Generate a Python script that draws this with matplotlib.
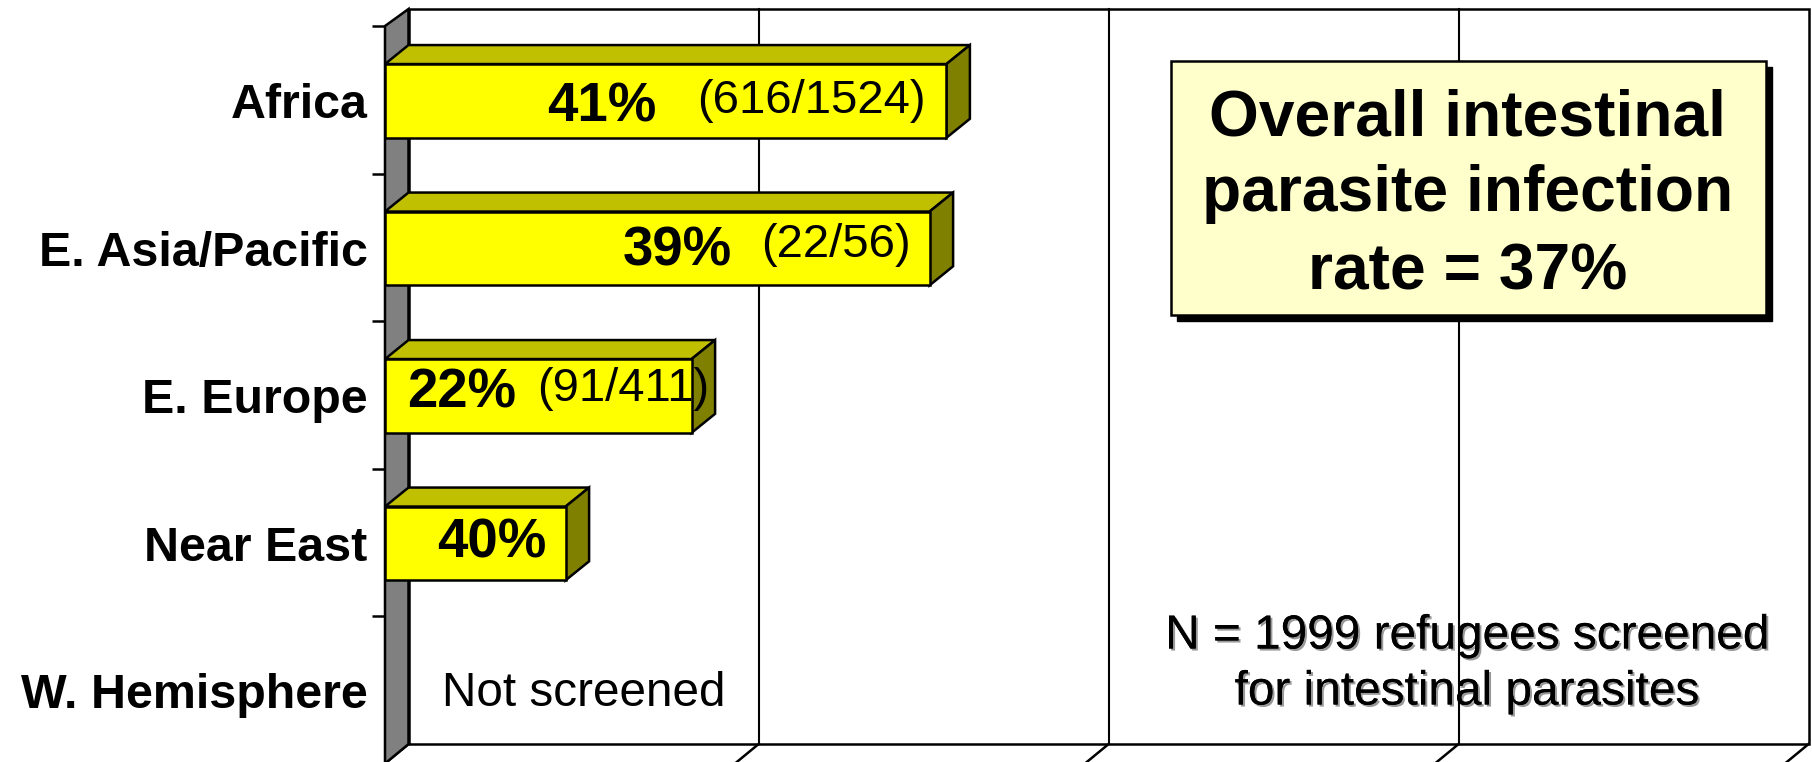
"""Intestinal parasite infection among screened refugees, by region (3-D style bars)."""

import matplotlib

matplotlib.use("Agg")
import matplotlib.patheffects as pe
import matplotlib.pyplot as plt
from matplotlib.patches import Polygon, Rectangle

# Data
REGIONS = ["Africa", "E. Asia/Pacific", "E. Europe", "Near East", "W. Hemisphere"]
BAR_VALUES = [40.1, 38.9, 21.9, 12.9]
PCT_LABELS = ["41%", "39%", "22%", "40%"]
COUNT_LABELS = ["(616/1524)", "(22/56)", "(91/411)", ""]
GRID_VALUES = [0, 25, 50, 75, 100]
BOX_LINES = ["Overall intestinal", "parasite infection", "rate = 37%"]
NOTE_LINES = ["N = 1999 refugees screened", "for intestinal parasites"]

FONT = "Liberation Sans"
YELLOW = "#ffff00"
TOP_FACE = "#c0c000"
SIDE_FACE = "#808000"
WALL = "#808080"
BOX_FACE = "#ffffcc"
LW = 1.8

# Layout of the front plane, in reference pixels
X0_PX, X_SCALE = 385, 14.0
Y0_PX, Y_SCALE = 26, 147.5
FIG_W, FIG_H = 1812, 762
DEPTH_X = 23.5 / X_SCALE
WALL_DEPTH_Y = 17 / Y_SCALE
BAR_DEPTH_Y = 19 / Y_SCALE
WALL_SHORTFALL = 0.016  # back wall ends a touch above the front plane's height
BAR_H = 0.5
ROW_SHIFT = 0.008


def px_x(x):
    return (x - X0_PX) / X_SCALE


def px_y(y):
    return (y - Y0_PX) / Y_SCALE


def draw_walls(ax):
    n = len(REGIONS)
    x_max = GRID_VALUES[-1]
    floor = n - WALL_DEPTH_Y - WALL_SHORTFALL
    ax.add_patch(Rectangle((DEPTH_X, -WALL_DEPTH_Y), x_max, floor + WALL_DEPTH_Y,
                           facecolor="white", edgecolor="black", linewidth=LW,
                           clip_on=False, zorder=1))
    for value in GRID_VALUES[1:-1]:
        ax.plot([value + DEPTH_X] * 2, [-WALL_DEPTH_Y, floor], color="black",
                linewidth=1.5, clip_on=False, zorder=1.5)
    for value in GRID_VALUES:
        ax.plot([value, value + DEPTH_X], [n, floor], color="black",
                linewidth=LW, clip_on=False, zorder=1.5)
    wall = [(0, 0), (DEPTH_X, -WALL_DEPTH_Y), (DEPTH_X, floor), (0, n)]
    ax.add_patch(Polygon(wall, facecolor=WALL, edgecolor="black", linewidth=LW,
                         clip_on=False, zorder=2))


def draw_bars(ax):
    centers = [i + 0.5 + ROW_SHIFT for i in range(len(BAR_VALUES))]
    ax.barh(centers, BAR_VALUES, height=BAR_H, color=YELLOW, edgecolor="black",
            linewidth=LW, zorder=4, clip_on=False)
    for value, center in zip(BAR_VALUES, centers):
        top, bottom = center - BAR_H / 2, center + BAR_H / 2
        top_face = [(0, top), (DEPTH_X, top - BAR_DEPTH_Y),
                    (value + DEPTH_X, top - BAR_DEPTH_Y), (value, top)]
        side_face = [(value, top), (value + DEPTH_X, top - BAR_DEPTH_Y),
                     (value + DEPTH_X, bottom - BAR_DEPTH_Y), (value, bottom)]
        ax.add_patch(Polygon(top_face, facecolor=TOP_FACE, edgecolor="black",
                             linewidth=LW, zorder=3, clip_on=False))
        ax.add_patch(Polygon(side_face, facecolor=SIDE_FACE, edgecolor="black",
                             linewidth=LW, zorder=3, clip_on=False))


def draw_bar_labels(ax):
    pct_right = [656, 732, 516, 547]
    pct_y = [107, 251, 393, 543]
    count_left = [697, 761, 537]
    count_y = [101, 245, 389]
    for i, label in enumerate(PCT_LABELS):
        ax.text(px_x(pct_right[i]), px_y(pct_y[i]), label, ha="right", va="center",
                fontsize=39.3, fontweight="bold", family=FONT, zorder=6)
    for i, label in enumerate(COUNT_LABELS[:3]):
        ax.text(px_x(count_left[i]), px_y(count_y[i]), label, ha="left", va="center",
                fontsize=34, family=FONT, zorder=6)
    ax.text(px_x(442), px_y(694), "Not screened", ha="left", va="center",
            fontsize=34.3, family=FONT, zorder=6)


def draw_box(ax):
    left, right = px_x(1171), px_x(1766)
    top, bottom = px_y(61), px_y(315)
    off_x, off_y = 6 / X_SCALE, 6 / Y_SCALE
    ax.add_patch(Rectangle((left + off_x, top + off_y), right - left, bottom - top,
                           facecolor="black", edgecolor="black", zorder=7, clip_on=False))
    ax.add_patch(Rectangle((left, top), right - left, bottom - top, facecolor=BOX_FACE,
                           edgecolor="black", linewidth=LW, zorder=8, clip_on=False))
    for line, y in zip(BOX_LINES, [118, 194, 272]):
        ax.text(px_x(1467.5), px_y(y), line, ha="center", va="center", fontsize=46.2,
                fontweight="bold", family=FONT, zorder=9)


def draw_note(ax):
    shadow = [pe.withSimplePatchShadow(offset=(1.5, -1.5), shadow_rgbFace="#808080", alpha=0.8),
              pe.Normal()]
    for line, y in zip(NOTE_LINES, [636, 692]):
        text = ax.text(px_x(1467), px_y(y), line, ha="center", va="center", fontsize=34.4,
                       family=FONT, zorder=6)
        text.set_path_effects(shadow)


def main():
    fig = plt.figure(figsize=(FIG_W / 100, FIG_H / 100), dpi=100)
    left = X0_PX / FIG_W
    width = GRID_VALUES[-1] * X_SCALE / FIG_W
    height = (FIG_H - Y0_PX) / FIG_H
    ax = fig.add_axes([left, 0, width, height])
    ax.patch.set_visible(False)
    ax.set_xlim(GRID_VALUES[0], GRID_VALUES[-1])
    ax.set_ylim((FIG_H - Y0_PX) / Y_SCALE, 0)
    for spine in ax.spines.values():
        spine.set_visible(False)

    ax.set_xticks([])
    ax.set_yticks(range(len(REGIONS)))
    ax.set_yticklabels([])
    ax.set_yticks([i + 0.5 + ROW_SHIFT for i in range(len(REGIONS))], minor=True)
    ax.set_yticklabels(REGIONS, minor=True, fontsize=34.8, fontweight="bold", family=FONT)
    ax.tick_params(axis="y", which="major", length=9.5, width=LW)
    ax.tick_params(axis="y", which="minor", length=0, pad=12.5)

    draw_walls(ax)
    draw_bars(ax)
    draw_bar_labels(ax)
    draw_box(ax)
    draw_note(ax)

    fig.savefig("out.png", dpi=100, facecolor="white")
    plt.close(fig)


if __name__ == "__main__":
    main()
